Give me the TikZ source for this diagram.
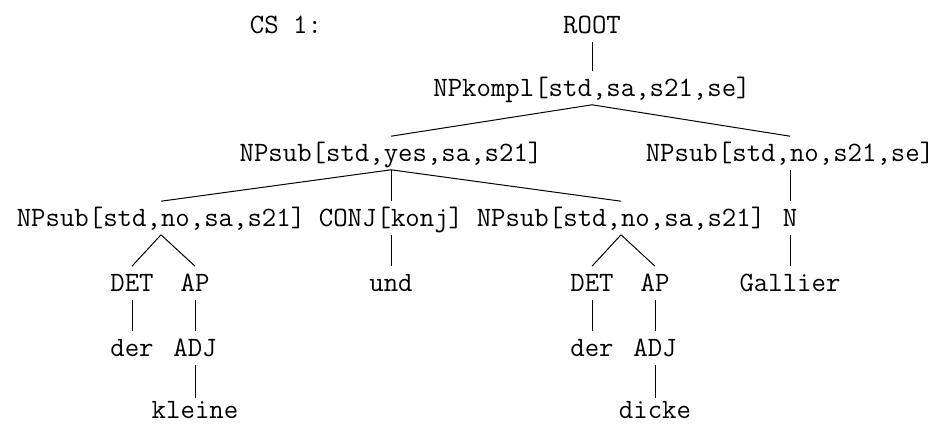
\documentclass[tikz,border=0pt]{standalone}
\usepackage{fontspec}
\usepackage{tikz}

\begin{document}
\begin{tikzpicture}[x=0.75pt, y=-0.75pt,
  cat/.style={inner sep=0pt, text height=18.4pt, text depth=6.4pt,
    font=\fontsize{21}{21}\selectfont\ttfamily},
  leaf/.style={cat, text height=15pt, text depth=0pt, anchor=base},
  edge/.style={line width=0.75pt}]

% --- Frame (picture clipped at the right edge) ---
\useasboundingbox (0,0) rectangle (937,425);
\clip (0,0) rectangle (937,425);

% ============================================================
% Row 0: heading and root
% ============================================================
\node[cat] (cs) at (286,25) {CS 1:};
\node[cat] (root) at (592,25) {ROOT};

% ============================================================
% Rows 1-2: complex NP and its two parts
% ============================================================
\node[cat] (kompl) at (592,88) {NPkompl[std,sa,s21,se]};
\node[cat] (subyes) at (391,153) {NPsub[std,yes,sa,s21]};
\node[cat] (subse) at (790,153) {NPsub[std,no,s21,se]};

% ============================================================
% Row 3: coordination and noun
% ============================================================
\node[cat] (subl) at (161,218) {NPsub[std,no,sa,s21]};
\node[cat] (conj) at (391,218) {CONJ[konj]};
\node[cat] (subr) at (621,218) {NPsub[std,no,sa,s21]};
\node[cat] (n) at (790,218) {N};

% ============================================================
% Rows 4-6: leaves
% ============================================================
\node[cat] (detl) at (132,283) {DET};
\node[cat] (apl) at (195,283) {AP};
\node[cat] (und) at (391,283) {und};
\node[cat] (detr) at (592,283) {DET};
\node[cat] (apr) at (655,283) {AP};
\node[cat] (gallier) at (790,283) {Gallier};

\node[cat] (derl) at (132,348) {der};
\node[cat] (adjl) at (195,348) {ADJ};
\node[cat] (derr) at (592,348) {der};
\node[cat] (adjr) at (655,348) {ADJ};

% bottom words sit on a baseline
\node[leaf] (kleine) at (195,418) {kleine};
\node[leaf] (dicke) at (655,418) {dicke};

% ============================================================
% Edges
% ============================================================
\draw[edge] (root.south) -- (kompl.north);
\draw[edge] (kompl.south) -- (subyes.north);
\draw[edge] (kompl.south) -- (subse.north);

\draw[edge] (subyes.south) -- (subl.north);
\draw[edge] (subyes.south) -- (conj.north);
\draw[edge] (subyes.south) -- (subr.north);
\draw[edge] (subse.south) -- (n.north);

\draw[edge] (subl.south) -- (detl.north);
\draw[edge] (subl.south) -- (apl.north);
\draw[edge] (conj.south) -- (und.north);
\draw[edge] (subr.south) -- (detr.north);
\draw[edge] (subr.south) -- (apr.north);
\draw[edge] (n.south) -- (gallier.north);

\draw[edge] (detl.south) -- (derl.north);
\draw[edge] (apl.south) -- (adjl.north);
\draw[edge] (detr.south) -- (derr.north);
\draw[edge] (apr.south) -- (adjr.north);

\draw[edge] (adjl.south) -- (kleine.north);
\draw[edge] (adjr.south) -- (dicke.north);

\end{tikzpicture}
\end{document}
